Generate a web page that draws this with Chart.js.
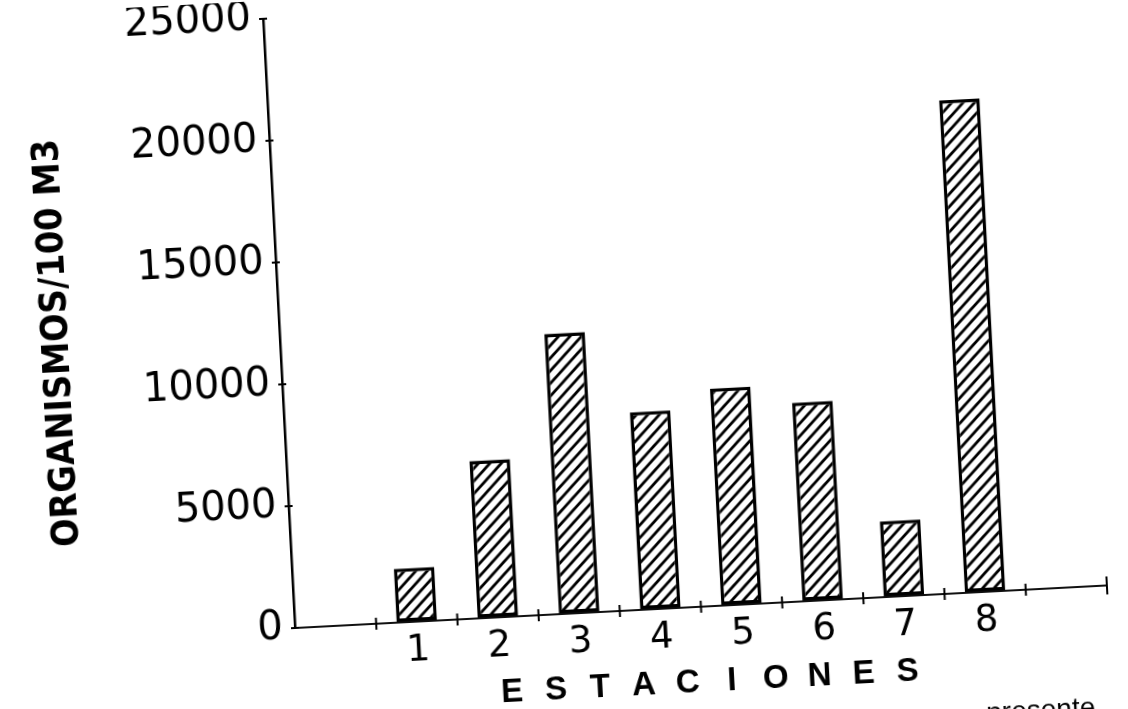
<!DOCTYPE html>
<html>
<head>
<meta charset="utf-8">
<script src="https://cdn.jsdelivr.net/npm/chart.js@4.4.0/dist/chart.umd.min.js"></script>
<style>
    html, body { margin: 0; padding: 0; background: #fff; overflow: hidden; width: 1128px; height: 709px; }
    /* the scan is slightly tilted, so the whole drawing is turned round the axis corner */
    #wrap { position: absolute; left: 0; top: 0; width: 1180px; height: 790px; transform-origin: 295px 628px; transform: rotate(-3deg); }
</style>
</head>
<body>
<div id="wrap"><canvas id="chart" width="1180" height="790"></canvas></div>
<script>
var estaciones = ['', '1', '2', '3', '4', '5', '6', '7', '8', ''];
var organismos = [null, 2200, 6450, 11500, 8100, 8900, 8150, 3100, 20200, null];
var yTicks = [0, 5000, 10000, 15000, 20000, 25000];
var yTitle = 'ORGANISMOS/100 M3';
var xTitle = 'ESTACIONES';
var nota = 'presente';

function makeHatch() {
    var size = 12;
    var c = document.createElement('canvas');
    c.width = size;
    c.height = size;
    var g = c.getContext('2d');
    g.fillStyle = '#fff';
    g.fillRect(0, 0, size, size);
    g.strokeStyle = '#000';
    g.lineWidth = 2.8;
    g.beginPath();
    g.moveTo(-2, size + 2); g.lineTo(size + 2, -2);
    g.moveTo(-2, 2); g.lineTo(2, -2);
    g.moveTo(size - 2, size + 2); g.lineTo(size + 2, size - 2);
    g.stroke();
    return g.createPattern(c, 'repeat');
}

var decorPlugin = {
    id: 'decor',
    afterDraw: function (chart) {
        var ctx = chart.ctx;
        var xs = chart.scales.x;
        var ys = chart.scales.y;
        var a = chart.chartArea;
        ctx.save();
        ctx.strokeStyle = '#000';
        ctx.lineWidth = 2;
        // small marks across the axes
        yTicks.forEach(function (v) {
            var py = ys.getPixelForValue(v);
            ctx.beginPath();
            ctx.moveTo(a.left - 4, py);
            ctx.lineTo(a.left + 4, py);
            ctx.stroke();
        });
        for (var i = 1; i <= estaciones.length; i++) {
            var px = xs.getPixelForValue(i - 0.5);
            var h = i === estaciones.length ? 9 : 6;
            ctx.beginPath();
            ctx.moveTo(px, a.bottom - h);
            ctx.lineTo(px, a.bottom + h);
            ctx.stroke();
        }

        ctx.fillStyle = '#000';
        // y title, squeezed to the length it has in the scan
        ctx.save();
        ctx.translate(a.left - 222, (a.top + a.bottom) / 2 + 8);
        ctx.rotate(-Math.PI / 2);
        ctx.font = "bold 38px 'Liberation Sans Narrow', 'DejaVu Sans Condensed', 'Liberation Sans', sans-serif";
        var w = ctx.measureText(yTitle).width;
        ctx.scale(408 / w, 1);
        ctx.textAlign = 'center';
        ctx.textBaseline = 'middle';
        ctx.fillText(yTitle, 0, 0);
        ctx.restore();

        // x title with spaced letters
        ctx.font = "bold 33px 'Liberation Sans', Arial, sans-serif";
        ctx.textAlign = 'center';
        ctx.textBaseline = 'alphabetic';
        var step = 44;
        var cx = (a.left + a.right) / 2 + 5 - step * (xTitle.length - 1) / 2;
        for (var k = 0; k < xTitle.length; k++) {
            ctx.fillText(xTitle[k], cx + k * step, a.bottom + 85);
        }

        // caption cut off by the bottom of the scan
        ctx.font = "28px 'Liberation Sans', Arial, sans-serif";
        ctx.textAlign = 'right';
        ctx.fillText(nota, a.right - 18, a.bottom + 130);
        ctx.restore();
    }
};

new Chart(document.getElementById('chart'), {
    type: 'bar',
    data: {
        labels: estaciones,
        datasets: [{
            data: organismos,
            backgroundColor: makeHatch(),
            borderColor: '#000',
            borderWidth: 3.5,
            borderSkipped: false,
            barPercentage: 0.5,
            categoryPercentage: 1
        }]
    },
    options: {
        responsive: false,
        animation: false,
        layout: { padding: { left: 0, right: 72, top: 0, bottom: 0 } },
        plugins: {
            legend: { display: false },
            tooltip: { enabled: false }
        },
        scales: {
            x: {
                offset: true,
                grid: { display: true, offset: true, drawOnChartArea: false, drawTicks: false },
                border: { display: true, color: '#111', width: 2 },
                ticks: {
                    color: '#000',
                    padding: 7,
                    autoSkip: false,
                    maxRotation: 0,
                    font: { family: "'DejaVu Sans', sans-serif", size: 37 }
                },
                afterFit: function (scale) { scale.height = 162; }
            },
            y: {
                min: 0,
                max: 25000,
                afterBuildTicks: function (scale) {
                    scale.ticks = yTicks.map(function (v) { return { value: v }; });
                },
                grid: { display: true, drawOnChartArea: false, drawTicks: false },
                border: { display: true, color: '#000', width: 2.5 },
                ticks: {
                    color: '#000',
                    padding: 12,
                    callback: function (v) { return String(v); },
                    font: { family: "'DejaVu Sans', sans-serif", size: 40, lineHeight: 0.3 }
                },
                afterFit: function (scale) { scale.width = 295; }
            }
        }
    },
    plugins: [decorPlugin]
});
</script>
</body>
</html>
